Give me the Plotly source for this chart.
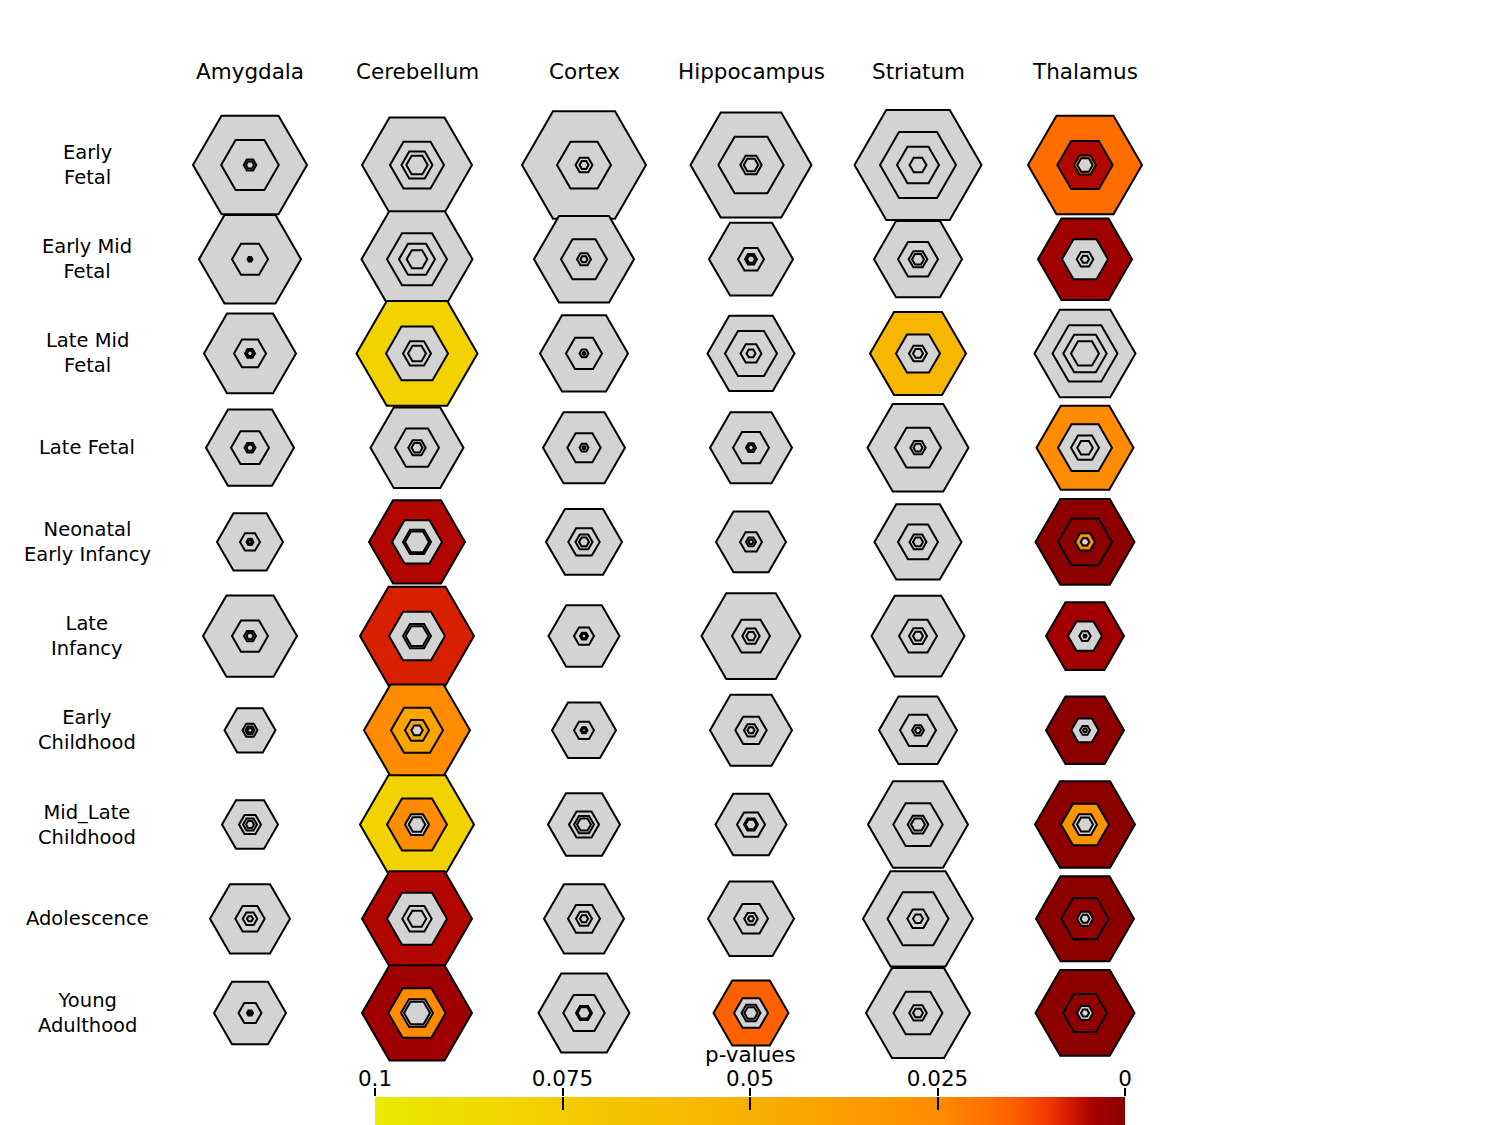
import plotly.graph_objects as go

# ---------------- data ----------------
regions = ["Amygdala", "Cerebellum", "Cortex", "Hippocampus", "Striatum", "Thalamus"]
stages = ["Early<br>Fetal", "Early Mid<br>Fetal", "Late Mid<br>Fetal", "Late Fetal",
          "Neonatal<br>Early Infancy", "Late<br>Infancy", "Early<br>Childhood",
          "Mid_Late<br>Childhood", "Adolescence", "Young<br>Adulthood"]

# relative gene-list size at each specificity threshold (rows = stages, cols = regions)
size_pSI_05 = [
    [57, 55, 62, 60.5, 63.5, 57],
    [51, 55.5, 50, 42, 44, 47],
    [46, 60.5, 44, 43.5, 48, 50.5],
    [44, 46.5, 41, 41, 50.5, 48.5],
    [33, 48, 38, 35, 43.5, 49.5],
    [47, 57, 35.5, 49.5, 46.5, 39],
    [25.5, 53, 32, 41, 39, 39],
    [28, 57, 36, 35.5, 50, 50],
    [40, 55, 40, 43, 55, 49],
    [36, 55, 45.5, 37.5, 52, 49.5],
]
size_pSI_01 = [
    [28.8, 27, 27, 32.7, 38, 27.7],
    [18, 30, 23, 13, 20, 23],
    [16, 31, 18, 26, 22, 32.5],
    [19, 22, 16.7, 18, 23, 27],
    [10, 25, 15.7, 11, 20, 27],
    [18, 28, 10, 19, 19, 17],
    [7.5, 26, 10, 15.7, 18, 13.7],
    [11, 30, 15, 14, 24.7, 24],
    [14.7, 30, 16, 17, 30.5, 23.7],
    [11.5, 28.7, 20.7, 17, 24.5, 22],
]
size_pSI_001 = [
    [6.3, 15.5, 8.5, 10.7, 21, 11],
    [2.5, 18, 7, 6, 9.3, 8.3],
    [5, 14, 4.5, 10.5, 9, 21.7],
    [5.5, 8.7, 4.5, 5, 7.7, 14],
    [3.5, 14, 8.5, 5, 8.5, 10],
    [6, 14, 4, 8.7, 9, 5.7],
    [4.5, 12, 3.5, 7, 6, 5],
    [7, 12, 10, 7, 10.3, 12],
    [7.3, 14.7, 8, 6.8, 10.7, 8],
    [3, 16, 8, 9.5, 8.8, 8],
]
size_pSI_0001 = [
    [4, 10.7, 4.5, 7.3, 8.5, 7.7],
    [1, 10.3, 3.5, 4, 6, 4],
    [3, 9, 1.5, 4.5, 5, 14],
    [3.5, 5.5, 1.5, 3, 4.5, 7.8],
    [2, 12, 5, 2.5, 5, 4.3],
    [3.5, 11.5, 2.5, 4.7, 5, 1.5],
    [2.5, 5.7, 2, 3.5, 3, 2],
    [4, 8.3, 7, 5.5, 7, 8],
    [3, 9.3, 4, 3, 5, 4.5],
    [1.5, 13, 6.5, 6.7, 5, 4],
]

# enrichment p-values (None = not significant, p > 0.1)
N = None
pval_pSI_05 = [
    [N, N, N, N, N, 0.018],
    [N, N, N, N, N, 0.003],
    [N, 0.08, N, N, 0.055, N],
    [N, N, N, N, N, 0.025],
    [N, 0.005, N, N, N, 0.0003],
    [N, 0.008, N, N, N, 0.0035],
    [N, 0.025, N, N, N, 0.0005],
    [N, 0.08, N, N, N, 0.0003],
    [N, 0.005, N, N, N, 0.0002],
    [N, 0.003, N, 0.015, N, 0.0002],
]
pval_pSI_01 = [
    [N, N, N, N, N, 0.005],
    [N, N, N, N, N, N],
    [N, N, N, N, N, N],
    [N, N, N, N, N, N],
    [N, N, N, N, N, 0.0005],
    [N, N, N, N, N, N],
    [N, 0.042, N, N, N, N],
    [N, 0.025, N, N, N, 0.03],
    [N, N, N, N, N, 0.0008],
    [N, 0.025, N, N, N, 0.0006],
]
pval_pSI_001 = [
    [N, N, N, N, N, 0.025],
    [N, N, N, N, N, N],
    [N, N, N, N, N, N],
    [N, N, N, N, N, N],
    [N, N, N, N, N, 0.025],
    [N, N, N, N, N, N],
    [N, 0.042, N, N, N, N],
    [N, N, N, N, N, N],
    [N, N, N, N, N, N],
    [N, N, N, N, N, N],
]
pval_pSI_0001 = [[N] * 6 for _ in range(10)]

pbar_ticks = [0.1, 0.075, 0.05, 0.025, 0]
pbar_ticktext = ["0.1", "0.075", "0.05", "0.025", "0"]
pbar_range = [0.1, 0.0]

# ---------------- figure ----------------
FONT = "DejaVu Sans"
FS_ROW = 19.5
FS_BIG = 21.5
GREY = "#d3d3d3"

fig = go.Figure()

levels = [(size_pSI_05, pval_pSI_05), (size_pSI_01, pval_pSI_01),
          (size_pSI_001, pval_pSI_001), (size_pSI_0001, pval_pSI_0001)]

for sizes, pvals in levels:
    gx, gy, gs = [], [], []
    cx, cy, cs, cc = [], [], [], []
    for r, stage in enumerate(stages):
        for c, region in enumerate(regions):
            if pvals[r][c] is None:
                gx.append(region); gy.append(stage); gs.append(sizes[r][c])
            else:
                cx.append(region); cy.append(stage); cs.append(sizes[r][c]); cc.append(pvals[r][c])
    fig.add_trace(go.Scatter(
        x=gx, y=gy, mode="markers", cliponaxis=False, hoverinfo="skip", showlegend=False,
        marker=dict(symbol="hexagon2", size=gs, sizemode="diameter", sizeref=0.5, opacity=1,
                    color=GREY, line=dict(color="black", width=2))))
    fig.add_trace(go.Scatter(
        x=cx, y=cy, mode="markers", cliponaxis=False, hoverinfo="skip", showlegend=False,
        marker=dict(symbol="hexagon2", size=cs, sizemode="diameter", sizeref=0.5, opacity=1,
                    color=cc, coloraxis="coloraxis", line=dict(color="black", width=2))))

# colour bar drawn as a smooth heatmap between the two ends of the p-value range
fig.add_trace(go.Heatmap(
    x=pbar_range, y=[0, 1], z=[pbar_range, pbar_range], coloraxis="coloraxis",
    zsmooth="best", xaxis="x2", yaxis="y2", hoverinfo="skip"))
# empty helper trace so the overlaid label axis is drawn
fig.add_trace(go.Scatter(x=[], y=[], xaxis="x3", yaxis="y2", showlegend=False, hoverinfo="skip"))

for c, region in enumerate(regions):
    fig.add_annotation(x=region, xref="x", y=1 - 71 / 1125, yref="paper", text=region,
                       showarrow=False, xanchor="center", yanchor="middle",
                       font=dict(family=FONT, size=FS_BIG, color="black"))
for r, stage in enumerate(stages):
    fig.add_annotation(x=87 / 1500, xref="paper", y=stage, yref="y", text=stage,
                       showarrow=False, xanchor="center", yanchor="middle", align="center",
                       font=dict(family=FONT, size=FS_ROW, color="black"))
fig.add_annotation(x=0.5, xref="paper", y=1 - 1054 / 1125, yref="paper", text="p-values",
                   showarrow=False, xanchor="center", yanchor="middle",
                   font=dict(family=FONT, size=FS_BIG, color="black"))

fig.update_layout(
    width=1500, height=1125,
    margin=dict(l=0, r=0, t=0, b=0, pad=0, autoexpand=False),
    paper_bgcolor="white", plot_bgcolor="white",
    showlegend=False,
    font=dict(family=FONT, size=FS_ROW, color="black"),
    coloraxis=dict(cmin=0, cmax=0.1, showscale=False,
                   colorscale=[[0, "#8b0000"], [0.04, "#a50000"], [0.07, "#cc1500"],
                               [0.10, "#ee3500"], [0.15, "#ff6000"], [0.25, "#ff8c00"],
                               [0.5, "#f8b000"], [0.75, "#f4cc00"], [1, "#eaea00"]]),
    xaxis=dict(domain=[166.5 / 1500, 1168.5 / 1500], range=[-0.5, 5.5], visible=False,
               categoryorder="array", categoryarray=regions),
    yaxis=dict(domain=[1 - 1060.1 / 1125, 1 - 117.9 / 1125], range=[9.5, -0.5], visible=False,
               categoryorder="array", categoryarray=stages),
    # base colour-bar axis: ticks reaching down into the bar
    xaxis2=dict(domain=[0.25, 0.75], anchor="y2", range=pbar_range, side="top",
                ticks="inside", ticklen=13, tickwidth=1.5, tickcolor="black",
                tickvals=pbar_ticks, showticklabels=False, showgrid=False, zeroline=False,
                showline=False, layer="above traces"),
    # overlaid axis: short ticks above the bar and their labels
    xaxis3=dict(overlaying="x2", anchor="y2", side="top", range=pbar_range,
                ticks="outside", ticklen=8, tickwidth=1.5, tickcolor="black",
                tickvals=pbar_ticks, ticktext=pbar_ticktext, showgrid=False, zeroline=False,
                showline=False, ticklabelstandoff=-7,
                tickfont=dict(family=FONT, size=FS_BIG, color="black")),
    yaxis2=dict(domain=[0, 28 / 1125], anchor="x2", range=[0, 1], visible=False),
)

fig.write_html("out.html")
